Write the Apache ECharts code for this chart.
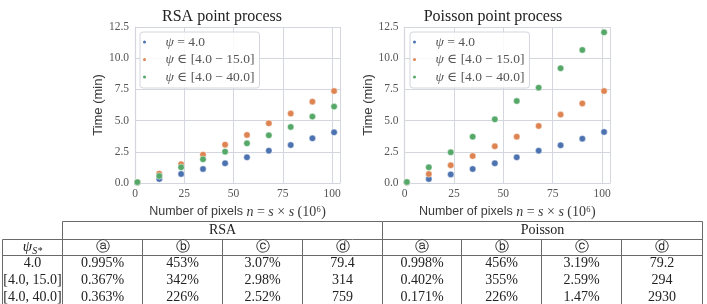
<!DOCTYPE html>
<html>
<head>
<meta charset="utf-8">
<script src="https://cdn.jsdelivr.net/npm/echarts@6/dist/echarts.min.js"></script>
<style>
  html, body { margin: 0; padding: 0; background: #fff; }
  #main { width: 707px; height: 304px; }
</style>
</head>
<body>
<div id="main"></div>
<script>
// number of pixels (10^6), same for both panels
var pixels = [1.2, 12.3, 23.4, 34.5, 45.7, 56.8, 67.9, 79, 90, 101];

// time in minutes, RSA point process
var rsa40 = [0.05, 0.32, 0.72, 1.12, 1.58, 2.06, 2.59, 3.04, 3.58, 4.06];
var rsa15 = [0.06, 0.75, 1.50, 2.27, 3.07, 3.85, 4.78, 5.56, 6.52, 7.37];
var rsa400 = [0.07, 0.56, 1.26, 1.90, 2.51, 3.18, 3.82, 4.49, 5.32, 6.12];

// time in minutes, Poisson point process
var poi40 = [0.05, 0.32, 0.69, 1.12, 1.58, 2.06, 2.59, 3.02, 3.55, 4.09];
var poi15 = [0.06, 0.72, 1.42, 2.16, 2.94, 3.71, 4.57, 5.48, 6.38, 7.37];
var poi400 = [0.08, 1.26, 2.46, 3.71, 5.10, 6.57, 7.64, 9.19, 10.66, 12.07];

var seriesNames = ['ψ = 4.0', 'ψ ∈ [4.0 − 15.0]', 'ψ ∈ [4.0 − 40.0]'];
var colors = ['#4C72B0', '#DD8452', '#55A868'];
var xTicks = [0, 25, 50, 75, 100];
var yTicks = [0, 2.5, 5, 7.5, 10, 12.5];

// table below the plots
var tableRowLabels = ['4.0', '[4.0, 15.0]', '[4.0, 40.0]'];
var tableColHeads = ['ⓐ', 'ⓑ', 'ⓒ', 'ⓓ'];
var tableGroups = ['RSA', 'Poisson'];
var rsaTable = [
    ['0.995%', '453%', '3.07%', '79.4'],
    ['0.367%', '342%', '2.98%', '314'],
    ['0.363%', '226%', '2.52%', '759']
];
var poissonTable = [
    ['0.998%', '456%', '3.19%', '79.2'],
    ['0.402%', '355%', '2.59%', '294'],
    ['0.171%', '226%', '1.47%', '2930']
];

var serif = '"Liberation Serif", "DejaVu Serif", serif';
var sans = '"Liberation Sans", "DejaVu Sans", sans-serif';
var gridColor = '#d4d6de';
var textColor = '#3a3a3a';

var chart = echarts.init(document.getElementById('main'), null, { renderer: 'canvas' });

function toPairs(ys) {
    var out = [];
    for (var i = 0; i < ys.length; i++) {
        out.push([pixels[i], ys[i]]);
    }
    return out;
}

function makeXAxis(idx) {
    return {
        type: 'value',
        gridIndex: idx,
        min: xTicks[0],
        max: 104,
        interval: xTicks[1] - xTicks[0],
        name: '{s|Number of pixels }{m|n}{r| = }{m|s}{r| × }{m|s}{r| (10⁶)}',
        nameLocation: 'middle',
        nameGap: 16,
        nameTextStyle: {
            rich: {
                s: { fontFamily: sans, fontSize: 12.5, color: textColor },
                m: { fontFamily: serif, fontStyle: 'italic', fontSize: 14, color: textColor },
                r: { fontFamily: serif, fontSize: 14, color: textColor }
            }
        },
        axisLine: { show: true, lineStyle: { color: gridColor, width: 1.2 } },
        axisTick: { show: false },
        axisLabel: {
            showMaxLabel: false,
            margin: 5,
            fontFamily: serif,
            fontSize: 11.5,
            color: '#555'
        },
        splitLine: { show: true, lineStyle: { color: gridColor, width: 1 } }
    };
}

function makeYAxis(idx) {
    return {
        type: 'value',
        gridIndex: idx,
        min: yTicks[0],
        max: yTicks[yTicks.length - 1],
        interval: yTicks[1] - yTicks[0],
        name: 'Time (min)',
        nameLocation: 'middle',
        nameGap: 26,
        nameTextStyle: { fontFamily: sans, fontSize: 13, color: textColor },
        axisLine: { show: true, lineStyle: { color: gridColor, width: 1.2 } },
        axisTick: { show: false },
        axisLabel: {
            margin: 6,
            fontFamily: serif,
            fontSize: 11.5,
            color: '#555',
            formatter: function (v) { return v.toFixed(1); }
        },
        splitLine: { show: true, lineStyle: { color: gridColor, width: 1 } }
    };
}

function makeLegend(left) {
    return {
        orient: 'vertical',
        left: left,
        top: 32,
        data: seriesNames,
        icon: 'circle',
        itemWidth: 32,
        itemHeight: 5,
        itemGap: 3.5,
        padding: [3, 5, 4, 1],
        backgroundColor: 'rgba(255,255,255,0.85)',
        borderColor: gridColor,
        borderWidth: 1,
        borderRadius: 3,
        selectedMode: false,
        formatter: function (name) {
            return '{p|ψ}{t|' + name.slice(1) + '}';
        },
        textStyle: {
            lineHeight: 14,
            rich: {
                p: { fontFamily: serif, fontStyle: 'italic', fontSize: 13.5, color: '#555', lineHeight: 14 },
                t: { fontFamily: serif, fontSize: 13.5, color: '#555', lineHeight: 14 }
            }
        }
    };
}

function makeSeries(gridIdx, sets) {
    var out = [];
    for (var i = 0; i < sets.length; i++) {
        out.push({
            name: seriesNames[i],
            type: 'scatter',
            xAxisIndex: gridIdx,
            yAxisIndex: gridIdx,
            symbolSize: 6.5,
            itemStyle: { color: colors[i], borderColor: '#fff', borderWidth: 0.5, opacity: 1 },
            data: toPairs(sets[i]),
            z: 3 + i
        });
    }
    return out;
}

// table drawn with graphic lines and texts
function buildTable() {
    var els = [];
    var colEdges = [2.5, 62.5, 142.5, 222.5, 302.5, 382.5, 461.5, 541.5, 621.5, 702.5];
    var yTop = 221.5, yHead = 239.5, ySub = 255.5, yBottom = 310;
    var lineStyle = { stroke: '#6a6a6a', lineWidth: 1 };
    var font = '14px ' + serif;

    function line(x1, y1, x2, y2) {
        els.push({ type: 'line', shape: { x1: x1, y1: y1, x2: x2, y2: y2 }, style: lineStyle, silent: true });
    }
    function text(x, y, t, extra) {
        var st = {
            text: t, x: x, y: y, align: 'center', verticalAlign: 'middle',
            font: font, fill: '#222'
        };
        if (extra) {
            for (var k in extra) st[k] = extra[k];
        }
        els.push({ type: 'text', style: st, silent: true });
    }

    line(colEdges[1], yTop, colEdges[9], yTop);
    line(colEdges[0], yHead, colEdges[9], yHead);
    line(colEdges[0], ySub, colEdges[9], ySub);
    line(colEdges[0], yHead, colEdges[0], yBottom);
    line(colEdges[1], yTop, colEdges[1], yBottom);
    line(colEdges[5], yTop, colEdges[5], yBottom);
    line(colEdges[9], yTop, colEdges[9], yBottom);
    for (var c = 2; c < 9; c++) {
        if (c !== 5) line(colEdges[c], yHead, colEdges[c], yBottom);
    }

    text((colEdges[1] + colEdges[5]) / 2, 230.5, tableGroups[0]);
    text((colEdges[5] + colEdges[9]) / 2, 230.5, tableGroups[1]);

    text((colEdges[0] + colEdges[1]) / 2, 247, '{p|ψ}{s|S*}', {
        rich: {
            p: { fontFamily: serif, fontStyle: 'italic', fontSize: 15, lineHeight: 18, fill: '#222' },
            s: { fontFamily: serif, fontStyle: 'italic', fontSize: 10, verticalAlign: 'bottom', fill: '#222' }
        }
    });

    for (var j = 0; j < 8; j++) {
        text((colEdges[j + 1] + colEdges[j + 2]) / 2, 247.5, tableColHeads[j % 4], { font: '14px "DejaVu Sans", sans-serif' });
    }

    var rowY = [263.5, 280.5, 297.5];
    for (var r = 0; r < tableRowLabels.length; r++) {
        text((colEdges[0] + colEdges[1]) / 2, rowY[r], tableRowLabels[r]);
        for (var k2 = 0; k2 < 4; k2++) {
            text((colEdges[k2 + 1] + colEdges[k2 + 2]) / 2, rowY[r], rsaTable[r][k2]);
            text((colEdges[k2 + 5] + colEdges[k2 + 6]) / 2, rowY[r], poissonTable[r][k2]);
        }
    }
    return els;
}

var option = {
    animation: false,
    backgroundColor: '#fff',
    title: [
        {
            text: 'RSA point process',
            left: 217, top: 4, textAlign: 'center',
            textStyle: { fontFamily: serif, fontSize: 16, fontWeight: 'normal', color: '#222' }
        },
        {
            text: 'Poisson point process',
            left: 488, top: 4, textAlign: 'center',
            textStyle: { fontFamily: serif, fontSize: 16, fontWeight: 'normal', color: '#222' }
        }
    ],
    grid: [
        { left: 135, top: 27, width: 205, height: 156 },
        { left: 404.5, top: 27, width: 205.5, height: 156 }
    ],
    xAxis: [makeXAxis(0), makeXAxis(1)],
    yAxis: [makeYAxis(0), makeYAxis(1)],
    legend: [makeLegend(140), makeLegend(410)],
    series: makeSeries(0, [rsa40, rsa15, rsa400]).concat(makeSeries(1, [poi40, poi15, poi400])),
    graphic: buildTable()
};

chart.setOption(option);
</script>
</body>
</html>
